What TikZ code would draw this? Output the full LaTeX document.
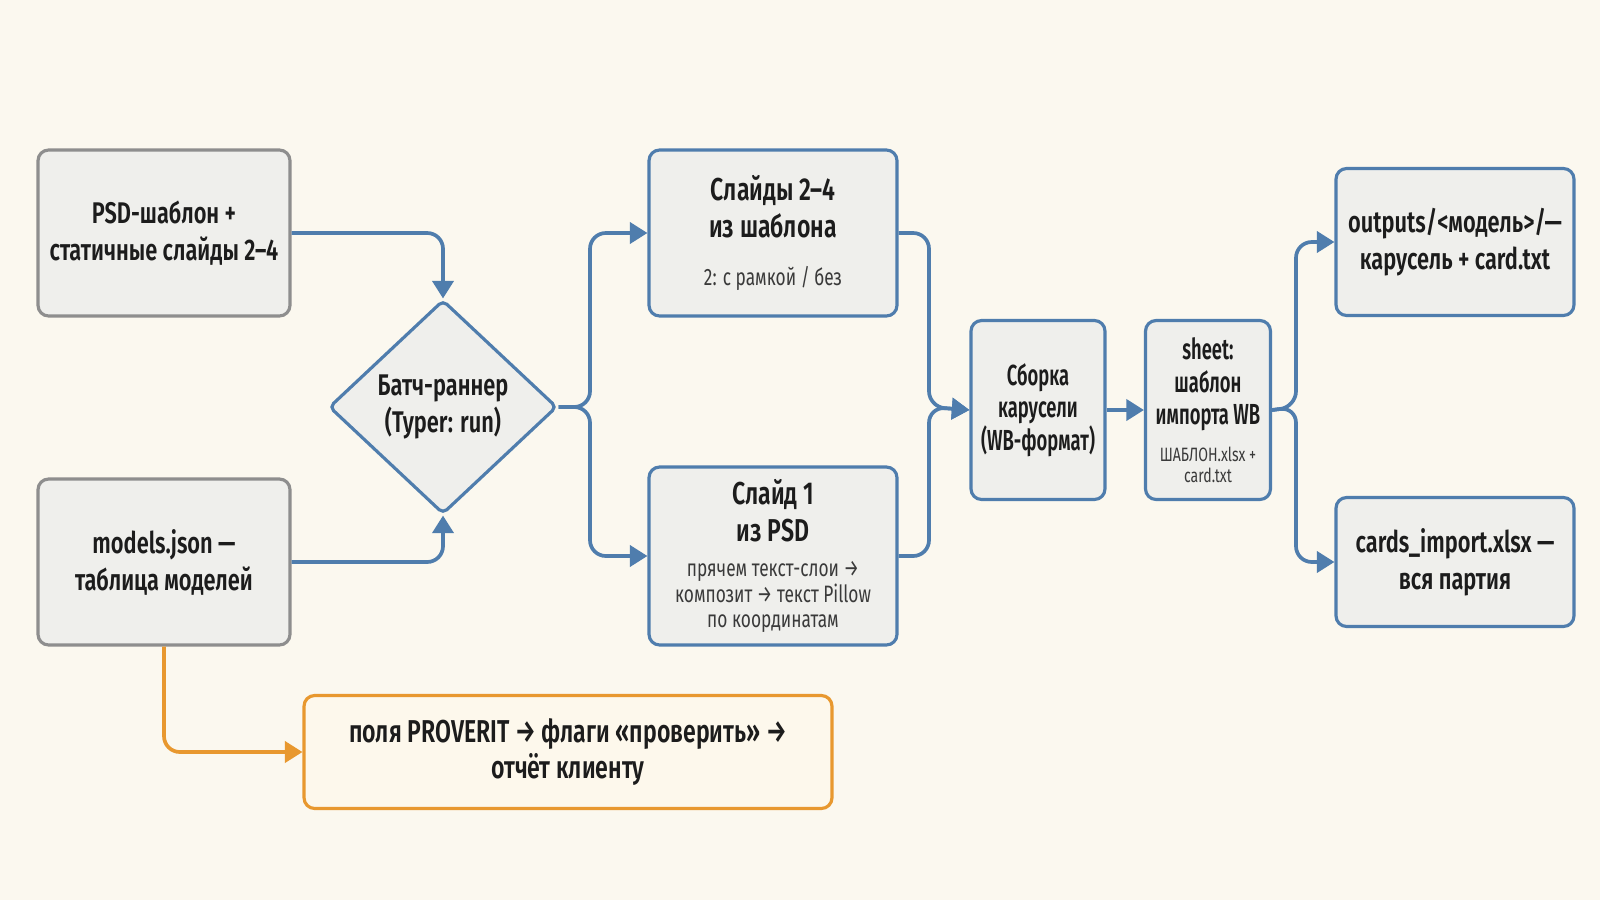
\documentclass[tikz,border=0pt]{standalone}
\usepackage{fontspec}
\setmainfont{Fira Sans}[FakeStretch=0.73, BoldFont={Fira Sans SemiBold}]
\newfontfamily\narrowfont{Fira Sans}[FakeStretch=0.635, BoldFont={Fira Sans SemiBold}]
\usetikzlibrary{shapes.geometric,arrows.meta}
\definecolor{bg}{HTML}{FBF8EF}
\definecolor{boxfill}{HTML}{EFEFEC}
\definecolor{bluel}{HTML}{4F7DAD}
\definecolor{greyl}{HTML}{8E8E8E}
\definecolor{orangel}{HTML}{E8982F}
\definecolor{orfill}{HTML}{FDF8EC}
\definecolor{txt}{HTML}{1C1C1C}
\definecolor{subtxt}{HTML}{3A3A3A}
\newcommand{\ttl}{\bfseries\fontsize{17}{21}\selectfont}
\newcommand{\subt}{\mdseries\color{subtxt}\fontsize{13.5}{14.5}\selectfont}
\newcommand{\subs}{\rmfamily\mdseries\color{subtxt}\fontsize{11}{12}\selectfont}
\begin{document}
\begin{tikzpicture}[x=0.02cm,y=-0.02cm,
  box/.style={draw=bluel, line width=1.8pt, fill=boxfill, rounded corners=6pt,
    inner sep=0pt, align=center, text=txt, font=\ttl},
  inbox/.style={box, draw=greyl},
  narrowbox/.style={box, font=\narrowfont\bfseries\fontsize{16.5}{18.6}\selectfont},
  conn/.style={draw=bluel, line width=2.1pt, rounded corners=9pt,
    -{Triangle[width=12pt,length=10pt]}}]
\fill[bg] (0,0) rectangle (1600,900);
\useasboundingbox (0,0) rectangle (1600,900);

\node[inbox, minimum width=5.04cm, minimum height=3.32cm] (psd) at (164,233)
  {PSD-шаблон +\\статичные слайды 2–4};
\node[inbox, minimum width=5.04cm, minimum height=3.32cm] (models) at (164,562)
  {models.json —\\таблица моделей};
\node[box, diamond, rounded corners=3pt, minimum width=4.56cm, minimum height=4.28cm] (dia) at (443,407)
  {Батч-раннер\\(Typer: run)};
\node[box, minimum width=4.96cm, minimum height=3.32cm, font=\bfseries\fontsize{18}{21}\selectfont] (s24) at (773,233)
  {Слайды 2–4\\из шаблона\\[6pt]\subt 2: с рамкой / без};
\node[box, minimum width=4.96cm, minimum height=3.56cm, font=\bfseries\fontsize{18}{21}\selectfont] (s1) at (773,556)
  {Слайд 1\\из PSD\\[-1pt]\subt прячем текст-слои →\\[-6.5pt]\subt композит → текст Pillow\\[-6.5pt]\subt по координатам};
\node[narrowbox, minimum width=2.68cm, minimum height=3.58cm] (asm) at (1038,410)
  {Сборка\\карусели\\(WB-формат)};
\node[narrowbox, minimum width=2.5cm, minimum height=3.58cm] (sheet) at (1208,410)
  {sheet:\\шаблон\\импорта WB\\[2.3pt]\subs ШАБЛОН.xlsx +\\[-7pt]\subs card.txt};
\node[box, minimum width=4.76cm, minimum height=2.94cm] (out) at (1455,242)
  {outputs/<модель>/—\\карусель + card.txt};
\node[box, minimum width=4.76cm, minimum height=2.58cm] (cards) at (1455,562)
  {cards\_import.xlsx —\\вся партия};
\node[box, draw=orangel, fill=orfill, minimum width=10.56cm, minimum height=2.26cm,
  font=\bfseries\fontsize{18}{21}\selectfont] (rep) at (568,752)
  {поля PROVERIT → флаги «проверить» →\\отчёт клиенту};

\coordinate (split) at (590,407);
\coordinate (merge) at (929,407);
\coordinate (fork) at (1296,407);

\draw[conn] (psd.east) -| (dia.north);
\draw[conn] (models.east) -| (dia.south);
\draw[conn] (dia.east) -- (split) |- (s24.west);
\draw[conn] (dia.east) -- (split) |- (s1.west);
\draw[conn] (s24.east) -| (merge) -- (asm.west);
\draw[conn] (s1.east) -| (merge) -- (asm.west);
\draw[conn] (asm.east) -- (sheet.west);
\draw[conn] (sheet.east) -- (fork) |- (out.west);
\draw[conn] (sheet.east) -- (fork) |- (cards.west);
\draw[conn, draw=orangel] (models.south) |- (rep.west);
\end{tikzpicture}
\end{document}
